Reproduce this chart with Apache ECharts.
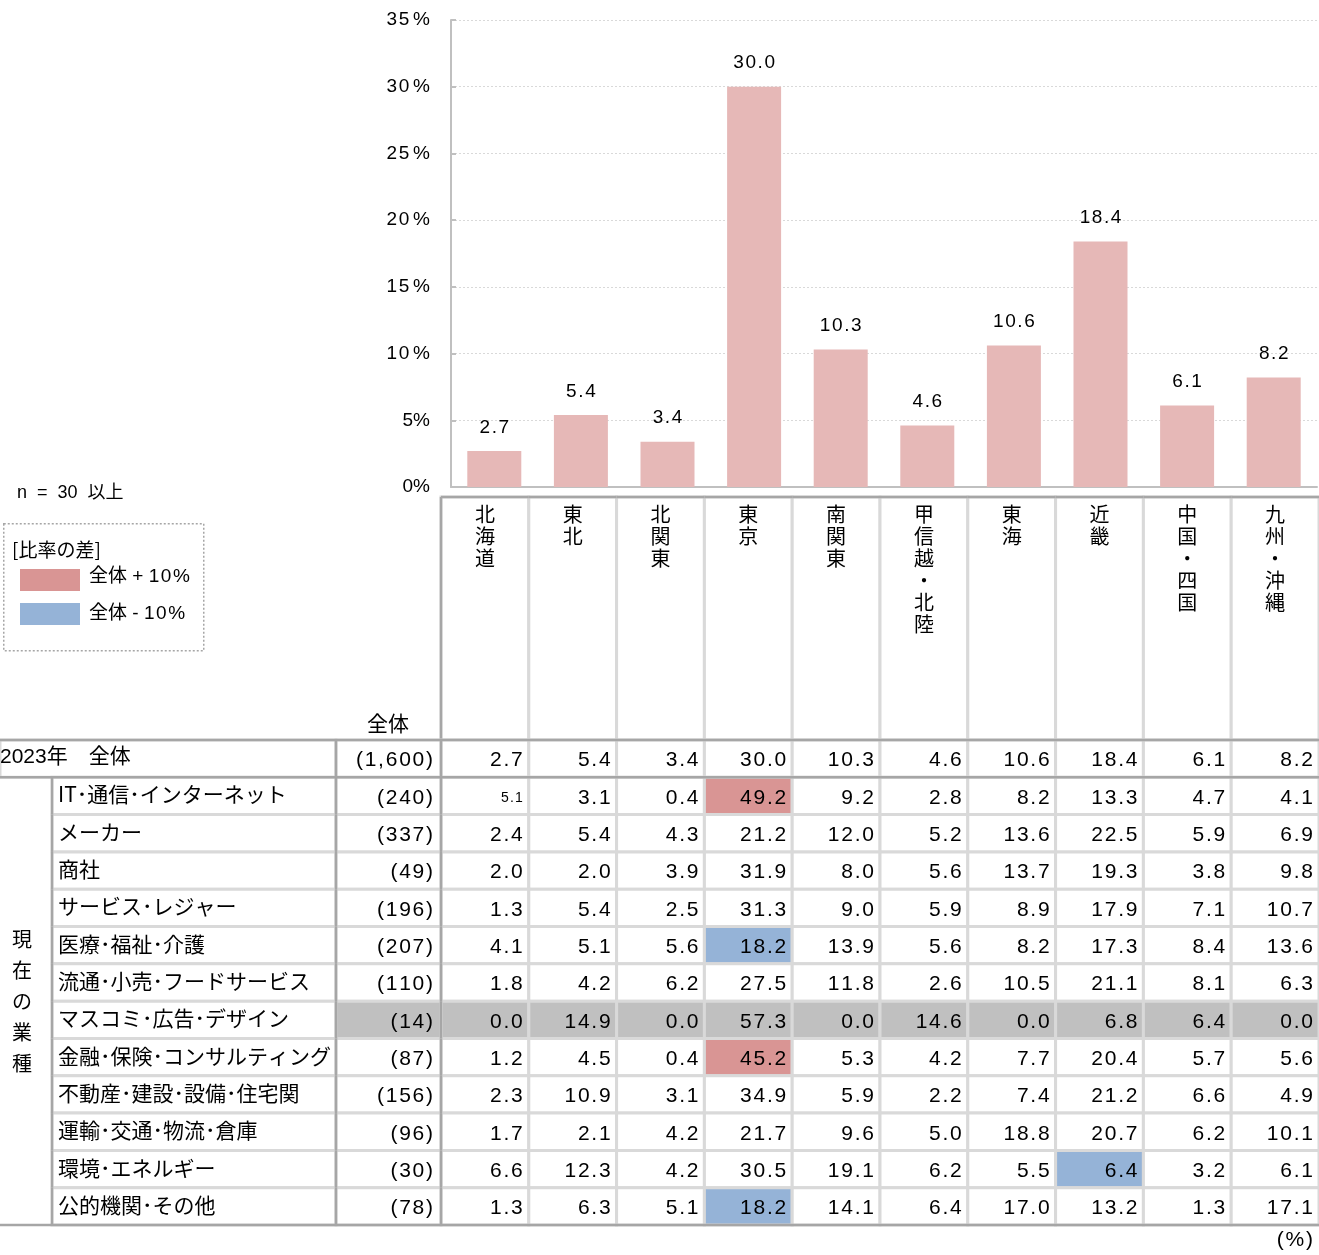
<!DOCTYPE html>
<html>
<head>
<meta charset="utf-8">
<script src="https://cdn.jsdelivr.net/npm/echarts@6/dist/echarts.min.js"></script>
<style>
html,body{margin:0;padding:0;background:#fff;}
#chart{width:1319px;height:1255px;}
</style>
</head>
<body>
<div id="chart"></div>
<script>
// ---------- DATA ----------
const regions = ['北海道','東北','北関東','東京','南関東','甲信越・北陸','東海','近畿','中国・四国','九州・沖縄'];
const overallLabel = '2023年　全体';
const overallN = 1600;
const overallValues = [2.7, 5.4, 3.4, 30.0, 10.3, 4.6, 10.6, 18.4, 6.1, 8.2];
const industries = [
  'IT･通信･インターネット','メーカー','商社','サービス･レジャー','医療･福祉･介護',
  '流通･小売･フードサービス','マスコミ･広告･デザイン','金融･保険･コンサルティング',
  '不動産･建設･設備･住宅関','運輸･交通･物流･倉庫','環境･エネルギー','公的機関･その他'
];
const industryN = [240, 337, 49, 196, 207, 110, 14, 87, 156, 96, 30, 78];
const industryValues = [
  [5.1, 3.1, 0.4, 49.2, 9.2, 2.8, 8.2, 13.3, 4.7, 4.1],
  [2.4, 5.4, 4.3, 21.2, 12.0, 5.2, 13.6, 22.5, 5.9, 6.9],
  [2.0, 2.0, 3.9, 31.9, 8.0, 5.6, 13.7, 19.3, 3.8, 9.8],
  [1.3, 5.4, 2.5, 31.3, 9.0, 5.9, 8.9, 17.9, 7.1, 10.7],
  [4.1, 5.1, 5.6, 18.2, 13.9, 5.6, 8.2, 17.3, 8.4, 13.6],
  [1.8, 4.2, 6.2, 27.5, 11.8, 2.6, 10.5, 21.1, 8.1, 6.3],
  [0.0, 14.9, 0.0, 57.3, 0.0, 14.6, 0.0, 6.8, 6.4, 0.0],
  [1.2, 4.5, 0.4, 45.2, 5.3, 4.2, 7.7, 20.4, 5.7, 5.6],
  [2.3, 10.9, 3.1, 34.9, 5.9, 2.2, 7.4, 21.2, 6.6, 4.9],
  [1.7, 2.1, 4.2, 21.7, 9.6, 5.0, 18.8, 20.7, 6.2, 10.1],
  [6.6, 12.3, 4.2, 30.5, 19.1, 6.2, 5.5, 6.4, 3.2, 6.1],
  [1.3, 6.3, 5.1, 18.2, 14.1, 6.4, 17.0, 13.2, 1.3, 17.1]
];
const yTicks = [0, 5, 10, 15, 20, 25, 30, 35];
const groupLabel = '現在の業種';
const minN = 30;          // n = 30 以上
const diffThreshold = 10; // 全体 ±10%
const smallFontCells = [[1, 0]]; // [row, col] drawn with a smaller font in the original

// ---------- STYLE / LAYOUT ----------
const NUM_FONT = '"Liberation Sans", Arial, "Noto Sans CJK JP", sans-serif';
const JP_FONT = '"Noto Sans CJK JP", "Liberation Sans", sans-serif';
const BAR_COLOR = '#e6b8b7';
const PLUS_COLOR = '#d99594';
const MINUS_COLOR = '#95b3d7';
const GREY_COLOR = '#c0c0c0';
const LIGHT_LINE = '#d9d9d9';
const DARK_LINE = '#a6a6a6';
const COL_GROUP_RIGHT = 52, COL_NAME_RIGHT = 336;
const HEADER_HEIGHT = 243;

function spaced(s) { return String(s).split('').join('\u200A'); }

// ---------- build table cells ----------
const rowLabels = [overallLabel].concat(industries);
const rowN = [overallN].concat(industryN);
const rowValues = [overallValues].concat(industryValues);
const cellData = [];
rowValues.forEach((vals, r) => {
  vals.forEach((v, c) => {
    let style = 0; // 0 normal, 1 plus, 2 minus, 3 grey
    if (r > 0) {
      if (rowN[r] < minN) style = 3;
      else if (v - overallValues[c] >= diffThreshold) style = 1;
      else if (v - overallValues[c] <= -diffThreshold) style = 2;
    }
    const small = smallFontCells.some(p => p[0] === r && p[1] === c) ? 1 : 0;
    cellData.push([c, r, v, style, small]);
  });
});
const rowData = rowLabels.map((_, r) => [0, r]);
const headerData = regions.map((_, c) => [c, 0]);

const chart = echarts.init(document.getElementById('chart'), null, {renderer: 'canvas'});

function line(x1, y1, x2, y2, color, w) {
  return {type: 'line', z2: 20, shape: {x1, y1, x2, y2}, style: {stroke: color, lineWidth: w}};
}

function renderCell(params, api) {
  const col = api.value(0), row = api.value(1), v = api.value(2), st = api.value(3), small = api.value(4);
  const c = api.coord([col, row]);
  const s = api.size([1, 1]);
  const x = c[0] - s[0] / 2, y = c[1] - s[1] / 2;
  const fill = st === 1 ? PLUS_COLOR : st === 2 ? MINUS_COLOR : st === 3 ? GREY_COLOR : '#ffffff';
  return {
    type: 'group',
    children: [
      {type: 'rect', shape: {x, y, width: s[0], height: s[1]}, style: {fill, stroke: LIGHT_LINE, lineWidth: 3}},
      {type: 'text', z2: 5, style: {
        text: spaced(v.toFixed(1)), x: x + s[0] - 6, y: c[1] + 2,
        align: 'right', verticalAlign: 'middle',
        font: (small ? '14px ' : '21px ') + NUM_FONT, fill: '#000'
      }}
    ]
  };
}

function renderRow(params, api) {
  const r = api.value(1);
  const c = api.coord([0, r]);
  const s = api.size([1, 1]);
  const tableLeft = c[0] - s[0] / 2;
  const y = c[1] - s[1] / 2, h = s[1];
  const W = api.getWidth();
  const last = rowLabels.length - 1;
  const ch = [];
  const nFill = (r > 0 && rowN[r] < minN) ? GREY_COLOR : '#ffffff';
  if (r === 0) {
    ch.push({type: 'rect', shape: {x: 0, y, width: COL_NAME_RIGHT, height: h}, style: {fill: '#fff', stroke: LIGHT_LINE, lineWidth: 3}});
    ch.push({type: 'text', z2: 5, style: {text: rowLabels[r], x: 0, y: c[1] - 1, align: 'left', verticalAlign: 'middle', font: '21px ' + NUM_FONT, fill: '#000'}});
  } else {
    ch.push({type: 'rect', shape: {x: COL_GROUP_RIGHT, y, width: COL_NAME_RIGHT - COL_GROUP_RIGHT, height: h}, style: {fill: '#fff', stroke: LIGHT_LINE, lineWidth: 3}});
    ch.push({type: 'text', z2: 5, style: {text: rowLabels[r], x: COL_GROUP_RIGHT + 6, y: c[1] - 1.5, align: 'left', verticalAlign: 'middle', font: '21px ' + JP_FONT, fill: '#000'}});
  }
  ch.push({type: 'rect', shape: {x: COL_NAME_RIGHT, y, width: tableLeft - COL_NAME_RIGHT, height: h}, style: {fill: nFill, stroke: LIGHT_LINE, lineWidth: 3}});
  ch.push({type: 'text', z2: 5, style: {text: spaced('(' + rowN[r].toLocaleString('en-US') + ')'), x: tableLeft - 8, y: c[1] + 2, align: 'right', verticalAlign: 'middle', font: '21px ' + NUM_FONT, fill: '#000'}});
  if (r === 1) {
    const gh = h * (rowLabels.length - 1);
    ch.push({type: 'rect', z2: 15, shape: {x: 0, y: y + 1.5, width: COL_GROUP_RIGHT - 1.5, height: gh - 3}, style: {fill: '#fff'}});
    ch.push({type: 'text', z2: 16, style: {text: groupLabel.split('').join('\n'), x: 22, y: y + gh / 2, align: 'center', verticalAlign: 'middle', lineHeight: 31, font: '20px ' + JP_FONT, fill: '#000'}});
  }
  // dark borders
  if (r === 0) {
    ch.push(line(0, y, W, y, DARK_LINE, 2.5));
    ch.push(line(0, y + h, W, y + h, DARK_LINE, 2.5));
  }
  if (r === last) ch.push(line(0, y + h, W, y + h, DARK_LINE, 2.5));
  ch.push(line(COL_NAME_RIGHT, y, COL_NAME_RIGHT, y + h, DARK_LINE, 2.5));
  ch.push(line(tableLeft, y, tableLeft, y + h, DARK_LINE, 2.5));
  if (r > 0) ch.push(line(COL_GROUP_RIGHT, y, COL_GROUP_RIGHT, y + h, DARK_LINE, 2.5));
  return {type: 'group', children: ch};
}

function renderHeader(params, api) {
  const col = api.value(0);
  const c = api.coord([col, 0]);
  const s = api.size([1, 1]);
  const x = c[0] - s[0] / 2;
  const bottom = c[1] - s[1] / 2;
  const top = bottom - HEADER_HEIGHT;
  const ch = [
    {type: 'rect', shape: {x, y: top, width: s[0], height: HEADER_HEIGHT}, style: {fill: '#fff', stroke: LIGHT_LINE, lineWidth: 3}},
    {type: 'text', z2: 5, style: {text: regions[col].split('').join('\n'), x: c[0], y: top + 6, align: 'center', verticalAlign: 'top', lineHeight: 22, font: '20px ' + JP_FONT, fill: '#000'}},
    line(x, top, x + s[0], top, DARK_LINE, 2.5)
  ];
  if (col === 0) ch.push(line(x, top, x, bottom, DARK_LINE, 2.5));
  return {type: 'group', children: ch};
}

const option = {
  animation: false,
  backgroundColor: '#fff',
  grid: [
    {left: 451, right: 2, top: 20, bottom: 768},
    {left: 441, right: 0, top: 740, bottom: 30}
  ],
  xAxis: [
    {type: 'category', gridIndex: 0, data: regions,
     axisLine: {show: true, lineStyle: {color: '#c0c0c0', width: 2}},
     axisTick: {show: false}, axisLabel: {show: false}},
    {type: 'category', gridIndex: 1, data: regions, show: false}
  ],
  yAxis: [
    {type: 'value', gridIndex: 0, min: yTicks[0], max: yTicks[yTicks.length - 1], interval: 5,
     axisLine: {show: true, lineStyle: {color: '#c0c0c0', width: 2}},
     axisTick: {show: true, inside: true, length: 5, lineStyle: {color: '#c0c0c0', width: 2}},
     splitLine: {show: true, lineStyle: {color: '#d9d9d9', type: [2, 2], width: 1}},
     axisLabel: {margin: 21, color: '#000', fontSize: 19, fontFamily: NUM_FONT,
       formatter: v => v >= 10 ? spaced(String(v)) + '\u2009%' : v + '%'}},
    {type: 'category', gridIndex: 1, data: rowLabels, inverse: true, show: false}
  ],
  series: [
    {type: 'bar', xAxisIndex: 0, yAxisIndex: 0, data: overallValues, barWidth: 54,
     itemStyle: {color: BAR_COLOR},
     label: {show: true, position: 'top', distance: 14, color: '#000', fontSize: 19, fontFamily: NUM_FONT,
       formatter: p => spaced(p.value.toFixed(1))}},
    {type: 'custom', xAxisIndex: 1, yAxisIndex: 1, data: headerData, renderItem: renderHeader, z: 2, clip: false},
    {type: 'custom', xAxisIndex: 1, yAxisIndex: 1, data: cellData, renderItem: renderCell, z: 2, clip: false},
    {type: 'custom', xAxisIndex: 1, yAxisIndex: 1, data: rowData, renderItem: renderRow, z: 3, clip: false}
  ],
  graphic: [
    {type: 'text', left: 17, top: 484, style: {text: 'n  =  30  以上', font: '18px ' + NUM_FONT, fill: '#000'}},
    {type: 'rect', left: 3, top: 523, shape: {width: 200, height: 127}, style: {fill: '#fff', stroke: '#a6a6a6', lineWidth: 1.5, lineDash: [2, 2]}},
    {type: 'text', left: 12, top: 540, style: {text: '[比率の差]', font: '19px ' + JP_FONT, fill: '#000'}},
    {type: 'rect', left: 20, top: 569, shape: {width: 60, height: 22}, style: {fill: PLUS_COLOR}},
    {type: 'text', left: 89, top: 567, style: {text: '全体 + ' + spaced('10%'), font: '19px ' + NUM_FONT, fill: '#000'}},
    {type: 'rect', left: 20, top: 603, shape: {width: 60, height: 22}, style: {fill: MINUS_COLOR}},
    {type: 'text', left: 89, top: 604, style: {text: '全体 - ' + spaced('10%'), font: '19px ' + NUM_FONT, fill: '#000'}},
    {type: 'text', left: 367, top: 713, style: {text: '全体', font: '21px ' + JP_FONT, fill: '#000'}},
    {type: 'text', right: 6, top: 1230, style: {text: spaced('(%)'), font: '21px ' + NUM_FONT, fill: '#000'}}
  ]
};
chart.setOption(option);
</script>
</body>
</html>
